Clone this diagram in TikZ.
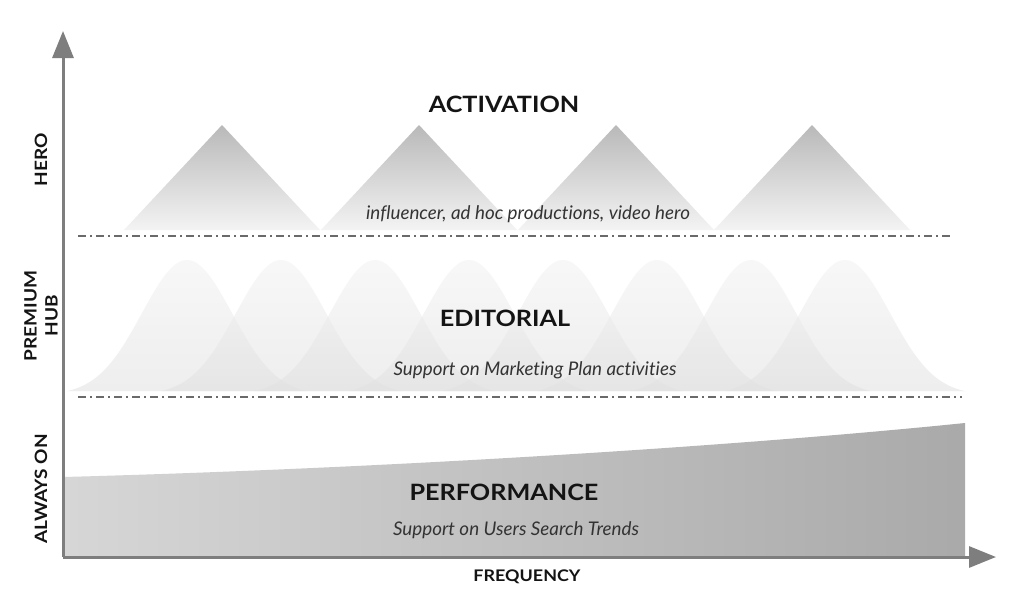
\documentclass[tikz,border=0pt]{standalone}
\usepackage{fontspec}
\setmainfont{Lato}[Ligatures={NoCommon}]
\newfontfamily\widelato[FakeStretch=1.12]{Lato}
\usetikzlibrary{arrows.meta}
\definecolor{axisgray}{HTML}{7E7E7E}
\definecolor{dashgray}{HTML}{6A6A6A}
\tikzset{
  axisline/.style={draw=axisgray, line width=3pt, -{Triangle[length=27pt,width=21pt]}},
  sepline/.style={draw=dashgray, line width=1.5pt, dash pattern=on 8pt off 4pt on 2pt off 4pt},
  peak/.style={top color=gray!55, middle color=gray!48, bottom color=gray!9, draw=none},
  bell/.style={top color=gray!10, bottom color=gray!24, fill opacity=0.55, draw=none},
  title/.style={font=\widelato\bfseries\fontsize{22.5}{26}\selectfont, text=black!92},
  subtitle/.style={font=\itshape\fontsize{18.8}{22}\selectfont, text=black!80},
  sidelabel/.style={font=\widelato\bfseries\fontsize{17}{21}\selectfont, rotate=90, align=center, text=black!92}
}
\begin{document}
\begin{tikzpicture}[x=1pt,y=-1pt]
\useasboundingbox[fill=white] (0,0) rectangle (1024,605);
% performance area
\shade[left color=gray!32, right color=gray!67] (63,557) -- (63,477) .. controls (400,468) and (750,445) .. (965,423) -- (965,557) -- cycle;
% activation peaks
\foreach \c in {222,419,616,812}{
  \shade[peak] (\c-98,230) -- (\c,125) -- (\c+98,230) -- cycle;
}
% editorial bells
\foreach \c in {187,281,375,469,563,657,751,845}{
  \shade[bell] plot[domain=-120:120, samples=61, smooth] ({\x+\c}, {395-135*exp(-((\x)*(\x))/4050)}) -- cycle;
}
% separators
\coordinate (s1a) at (78,236); \coordinate (s1b) at (952,236);
\coordinate (s2a) at (78,397); \coordinate (s2b) at (962,397);
\draw[sepline] (s1a) -- (s1b);
\draw[sepline] (s2a) -- (s2b);
% axes
\coordinate (o) at (63,557);
\coordinate (ytop) at (63,31);
\coordinate (xend) at (996,557);
\draw[axisline] (o) -- (ytop);
\draw[axisline] (o) -- (xend);
% texts
\node[title] (act) at (504,104) {ACTIVATION};
\node[subtitle] (actsub) at (528,214) {influencer, ad hoc productions, video hero};
\node[title] (edi) at (505,318) {EDITORIAL};
\node[subtitle] (edisub) at (535,370) {Support on Marketing Plan activities};
\node[title] (perf) at (504,492) {PERFORMANCE};
\node[subtitle] (perfsub) at (516,530) {Support on Users Search Trends};
\node[font=\widelato\bfseries\fontsize{16}{16}\selectfont, text=black!92] (freq) at (527,577) {FREQUENCY};
\node[sidelabel] (hero) at (41,160) {HERO};
\node[sidelabel] (hub) at (41,316) {PREMIUM\\HUB};
\node[sidelabel] (always) at (41,489) {ALWAYS ON};
\end{tikzpicture}
\end{document}
